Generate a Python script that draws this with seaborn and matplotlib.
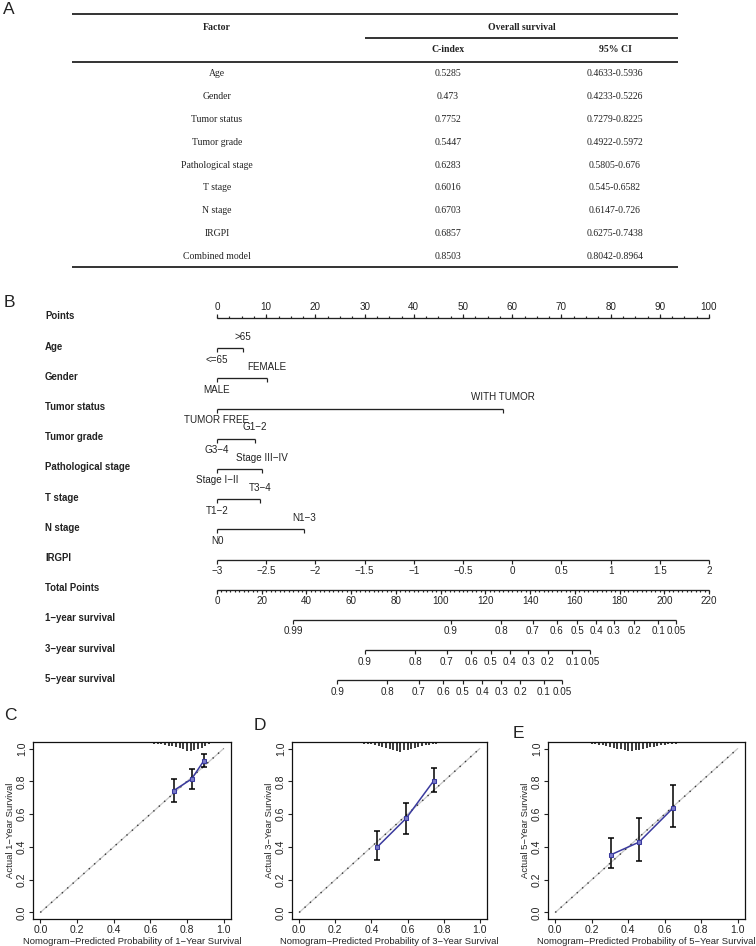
"""Prognostic table, nomogram and calibration curves (panels A-E)."""

import matplotlib

matplotlib.use("Agg")

import matplotlib.pyplot as plt
import matplotlib.transforms as mtransforms
import numpy as np
import seaborn as sns
from matplotlib.ticker import FormatStrFormatter

# ---------------- Panel A: C-index table ----------------
factors = ["Age", "Gender", "Tumor status", "Tumor grade", "Pathological stage",
           "T stage", "N stage", "IRGPI", "Combined model"]
c_index = ["0.5285", "0.473", "0.7752", "0.5447", "0.6283", "0.6016", "0.6703", "0.6857", "0.8503"]
ci_95 = ["0.4633-0.5936", "0.4233-0.5226", "0.7279-0.8225", "0.4922-0.5972", "0.5805-0.676",
         "0.545-0.6582", "0.6147-0.726", "0.6275-0.7438", "0.8042-0.8964"]

# ---------------- Panel B: nomogram ----------------
point_ticks = list(range(0, 101, 10))
nomo_vars = ["Age", "Gender", "Tumor status", "Tumor grade", "Pathological stage", "T stage", "N stage"]
nomo_low = ["<=65", "MALE", "TUMOR FREE", "G3\u22124", "Stage I\u2212II", "T1\u22122", "N0"]
nomo_high = [">65", "FEMALE", "WITH TUMOR", "G1\u22122", "Stage III\u2212IV", "T3\u22124", "N1\u22123"]
nomo_high_pts = [5.3, 10.2, 58.1, 7.7, 9.2, 8.7, 17.7]
irgpi_ticks = [-3, -2.5, -2, -1.5, -1, -0.5, 0, 0.5, 1, 1.5, 2]
total_ticks = list(range(0, 221, 20))
surv_probs_1y = [0.99, 0.9, 0.8, 0.7, 0.6, 0.5, 0.4, 0.3, 0.2, 0.1, 0.05]
surv_tp_1y = [34.0, 104.6, 127.0, 141.3, 152.0, 161.0, 169.5, 177.5, 186.5, 197.2, 205.2]
surv_probs_3y = [0.9, 0.8, 0.7, 0.6, 0.5, 0.4, 0.3, 0.2, 0.1, 0.05]
surv_tp_3y = [66.2, 88.6, 102.8, 113.6, 122.5, 131.0, 139.1, 148.0, 158.8, 166.8]
surv_probs_5y = [0.9, 0.8, 0.7, 0.6, 0.5, 0.4, 0.3, 0.2, 0.1, 0.05]
surv_tp_5y = [53.7, 76.0, 90.3, 101.1, 110.0, 118.5, 127.0, 135.5, 146.2, 154.3]

# ---------------- Panels C-E: calibration ----------------
cal_pred_1y = [0.728, 0.825, 0.892]
cal_obs_1y = [0.744, 0.814, 0.926]
cal_lo_1y = [0.675, 0.755, 0.885]
cal_hi_1y = [0.816, 0.877, 0.967]
cal_pred_3y = [0.433, 0.592, 0.744]
cal_obs_3y = [0.400, 0.574, 0.802]
cal_lo_3y = [0.318, 0.476, 0.737]
cal_hi_3y = [0.500, 0.669, 0.880]
cal_pred_5y = [0.303, 0.459, 0.647]
cal_obs_5y = [0.351, 0.429, 0.639]
cal_lo_5y = [0.271, 0.312, 0.521]
cal_hi_5y = [0.453, 0.576, 0.776]

# spike heights of the predicted-risk distribution, bins 0.00..1.00 step 0.02
spikes_1y = [0, 0, 0, 0, 0, 0, 0, 0, 0, 0, 0, 0, 0, 0.003, 0.003,
             0.003, 0.004, 0.003, 0.004, 0.004, 0.005, 0.004, 0.005, 0.006, 0.005, 0.006, 0.006, 0.007, 0.007, 0.008,
             0.008, 0.010, 0.012, 0.015, 0.018, 0.022, 0.026, 0.032, 0.038, 0.045,
             0.052, 0.056, 0.050, 0.042, 0.034, 0.024, 0.014, 0.008, 0.005, 0.003, 0]
spikes_3y = [0, 0, 0, 0.003, 0.003, 0.003, 0.004, 0.004, 0.004, 0.005,
             0.005, 0.005, 0.006, 0.006, 0.006, 0.007, 0.008, 0.009, 0.010, 0.012,
             0.015, 0.020, 0.024, 0.030, 0.036, 0.042, 0.048, 0.052, 0.058, 0.050,
             0.046, 0.040, 0.034, 0.028, 0.024, 0.020, 0.016, 0.012, 0.010, 0.008,
             0.008, 0.006, 0.006, 0.005, 0.004, 0.004, 0.003, 0.003, 0.003, 0, 0]
spikes_5y = [0.003, 0.004, 0.004, 0.005, 0.005, 0.005, 0.006, 0.006, 0.007, 0.008,
             0.010, 0.012, 0.016, 0.020, 0.026, 0.030, 0.036, 0.040, 0.044, 0.048,
             0.052, 0.056, 0.050, 0.046, 0.040, 0.036, 0.032, 0.028, 0.024, 0.020,
             0.018, 0.015, 0.012, 0.010, 0.009, 0.008, 0.007, 0.006, 0.005, 0.005,
             0.004, 0.004, 0.003, 0.003, 0.003, 0, 0, 0, 0, 0, 0]

W, H = 756, 946
INK = "#222222"
SANS = ["Liberation Sans", "DejaVu Sans"]
SERIF = ["Liberation Serif", "DejaVu Serif"]

sns.set_style("ticks")
plt.rcParams["font.family"] = SANS
plt.rcParams["text.color"] = INK

fig = plt.figure(figsize=(W / 100, H / 100), dpi=100)


def px_axes(left, top, right, bottom):
    return fig.add_axes([left / W, 1 - bottom / H, (right - left) / W, (bottom - top) / H])


# ---------------- A ----------------
ax_t = px_axes(0, 0, W, 280)
ax_t.set_xlim(0, W)
ax_t.set_ylim(280, 0)
ax_t.axis("off")
for y, x0 in [(14, 72), (38, 365), (62, 72), (267, 72)]:
    ax_t.plot([x0, 678], [y, y], color="#333333", lw=1.4, solid_capstyle="butt")
hdr = dict(family=SERIF, fontsize=7.0, fontweight="bold", ha="center", va="center")
ax_t.text(217, 27, "Factor", **hdr)
ax_t.text(522, 27, "Overall survival", **hdr)
ax_t.text(448, 50, "C-index", **hdr)
ax_t.text(615, 50, "95% CI", **hdr)
cell = dict(family=SERIF, fontsize=7.0, ha="center", va="center")
for i, (f, c, ci) in enumerate(zip(factors, c_index, ci_95)):
    y = 74 + 22.8 * i
    ax_t.text(217, y, f, **cell)
    ax_t.text(448, y, c, **cell)
    ax_t.text(615, y, ci, **cell)

# ---------------- B ----------------
ROW0, ROWSTEP = 318, 30.2
ax_n = px_axes(217, 290, 709, 700)
ax_n.set_xlim(0, 100)
ax_n.set_ylim((700 - ROW0) / ROWSTEP, (290 - ROW0) / ROWSTEP)
ax_n.axis("off")
lab_tr = mtransforms.blended_transform_factory(fig.transFigure, ax_n.transData)
LW = 0.95
TK = 0.13
OFF = 0.38
tick_fs = 7.1


def row_label(row, text):
    ax_n.text(45 / W, row - 0.05, text, transform=lab_tr, ha="left", va="center",
              fontsize=6.9, fontweight="bold", color=INK)


def hline(row, x0, x1):
    ax_n.plot([x0, x1], [row, row], color=INK, lw=LW, solid_capstyle="butt", clip_on=False)


def ticks(row, xs, length):
    ax_n.vlines(xs, row, row + length, color=INK, lw=LW * 0.9, clip_on=False)


def scale_row(row, positions, labels, minor=None):
    hline(row, min(positions), max(positions))
    if minor is not None:
        ticks(row, minor, TK * 0.5)
    ticks(row, positions, TK)
    for x, s in zip(positions, labels):
        ax_n.text(x, row + OFF, s, ha="center", va="center", fontsize=tick_fs, clip_on=False)


# Points scale, ticks upward and labels above
row_label(0, "Points")
hline(0, 0, 100)
ticks(0, np.arange(0, 100.1, 2.5), -TK * 0.5)
ticks(0, point_ticks, -TK)
for p in point_ticks:
    ax_n.text(p, -0.38, str(p), ha="center", va="center", fontsize=tick_fs)

for i, (name, lo, hi, pts) in enumerate(zip(nomo_vars, nomo_low, nomo_high, nomo_high_pts), start=1):
    row_label(i, name)
    hline(i, 0, pts)
    ticks(i, [0, pts], TK)
    ax_n.text(0, i + OFF, lo, ha="center", va="center", fontsize=tick_fs)
    ax_n.text(pts, i - OFF, hi, ha="center", va="center", fontsize=tick_fs)

# IRGPI continuous scale (-3..2 spans the full 100 points)
irgpi_pts = [(v - irgpi_ticks[0]) * 100 / (irgpi_ticks[-1] - irgpi_ticks[0]) for v in irgpi_ticks]
row_label(8, "IRGPI")
scale_row(8, irgpi_pts, [f"{v:g}".replace("-", "\u2212") for v in irgpi_ticks])

# Total points (0..220 mapped onto the 100-point width)
TP_SCALE = 100 / 220
row_label(9, "Total Points")
scale_row(9, [t * TP_SCALE for t in total_ticks], [str(t) for t in total_ticks],
          minor=np.arange(0, 220.1, 2) * TP_SCALE)

for row, name, probs, tps in [(10, "1\u2212year survival", surv_probs_1y, surv_tp_1y),
                              (11, "3\u2212year survival", surv_probs_3y, surv_tp_3y),
                              (12, "5\u2212year survival", surv_probs_5y, surv_tp_5y)]:
    row_label(row, name)
    scale_row(row, [t * TP_SCALE for t in tps], [f"{p:g}" for p in probs])


# ---------------- C-E ----------------
def calibration(ax, pred, obs, lo, hi, spikes, year):
    pred, obs, lo, hi = map(np.asarray, (pred, obs, lo, hi))
    top = 1.04
    grid = np.linspace(0, 1, len(spikes))
    ax.vlines(grid, top - np.asarray(spikes), top, color="#2a2a2a", lw=1.3)
    ax.plot([0, 1], [0, 1], color="#c8c8c8", lw=0.9)
    ax.plot([0, 1], [0, 1], color="#333333", lw=1.0, linestyle=(0, (1, 4.2)))
    ax.errorbar(pred, obs, yerr=[obs - lo, hi - obs], fmt="none", ecolor="black",
                elinewidth=1.1, capsize=2.2, capthick=1.1)
    sns.lineplot(x=pred, y=obs, ax=ax, color="#3a3a9e", lw=1.1, marker="s", markersize=3.2,
                 markeredgecolor="#3a3a9e", markerfacecolor="#7a7ac8")
    ax.set_xlim(-0.04, top)
    ax.set_ylim(-0.04, top)
    ticks_ = [0, 0.2, 0.4, 0.6, 0.8, 1.0]
    ax.set_xticks(ticks_)
    ax.set_yticks(ticks_)
    ax.xaxis.set_major_formatter(FormatStrFormatter("%.1f"))
    ax.yaxis.set_major_formatter(FormatStrFormatter("%.1f"))
    ax.tick_params(direction="out", length=3, width=0.8, labelsize=7.5, pad=1.5, colors=INK)
    plt.setp(ax.get_yticklabels(), rotation=90, va="center")
    for sp in ax.spines.values():
        sp.set_visible(True)
        sp.set_color("#111111")
        sp.set_linewidth(0.9)
    ax.set_xlabel(f"Nomogram\u2212Predicted Probability of {year}\u2212Year Survival",
                  fontsize=6.8, labelpad=1)
    ax.set_ylabel(f"Actual {year}\u2212Year Survival", fontsize=6.8, labelpad=1)


panels = [
    (33, 231, cal_pred_1y, cal_obs_1y, cal_lo_1y, cal_hi_1y, spikes_1y, 1),
    (292, 487, cal_pred_3y, cal_obs_3y, cal_lo_3y, cal_hi_3y, spikes_3y, 3),
    (548, 745, cal_pred_5y, cal_obs_5y, cal_lo_5y, cal_hi_5y, spikes_5y, 5),
]
for left, right, pr, ob, lo, hi, sp, yr in panels:
    ax = px_axes(left, 742, right, 919)
    calibration(ax, pr, ob, lo, hi, sp, yr)

for letter, x, y in [("A", 9, 10), ("B", 9, 302), ("C", 10, 715), ("D", 260, 725), ("E", 518, 733)]:
    fig.text(x / W, 1 - y / H, letter, ha="center", va="center", fontsize=12.5, color=INK)

fig.savefig("out.png", dpi=100)
